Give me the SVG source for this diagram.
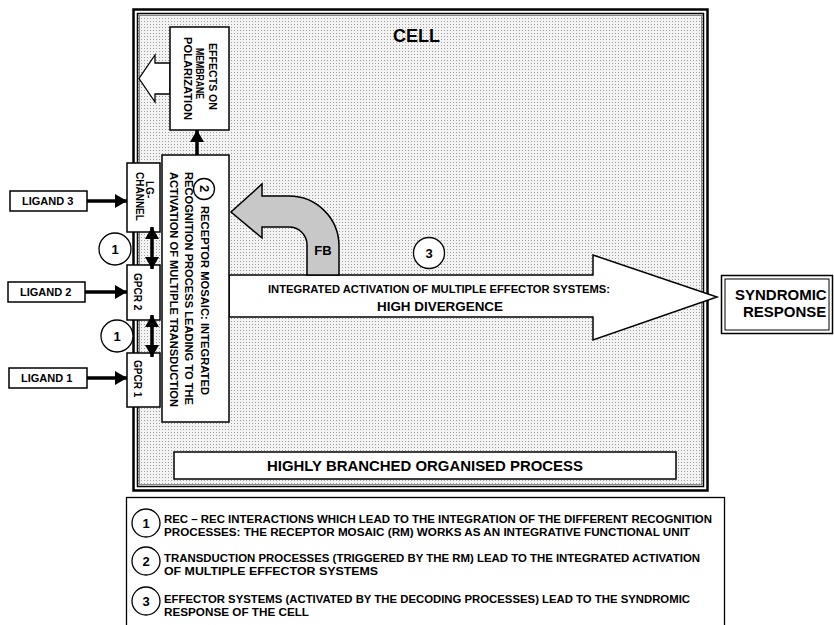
<svg xmlns="http://www.w3.org/2000/svg" width="834" height="625" viewBox="0 0 834 625">
  <defs>
    <pattern id="stipple" width="3" height="3" patternUnits="userSpaceOnUse">
      <rect width="3" height="3" fill="#f3f3f3"/>
      <rect width="1" height="1" fill="#a0a0a0"/>
    </pattern>
    <marker id="head" viewBox="0 0 12 14" refX="12" refY="7" markerWidth="12" markerHeight="14" markerUnits="userSpaceOnUse" orient="auto-start-reverse">
      <path d="M0,0 L12,7 L0,14 Z" fill="#000"/>
    </marker>
    <style>
      text { font-family: "Liberation Sans", Arial, sans-serif; font-weight: bold; fill: #000; }
      .box { fill: #fff; stroke: #000; stroke-width: 1.5; }
      .circ { fill: #fff; stroke: #000; stroke-width: 1.3; }
      .conn { stroke: #000; stroke-width: 3.5; fill: none; }
      .t10 { font-size: 10px; }
      .t11 { font-size: 11px; }
      .t13 { font-size: 13px; }
      .t15 { font-size: 15px; }
      .mid { text-anchor: middle; }
    </style>
  </defs>

  <rect width="834" height="625" fill="#fff"/>

  <!-- cell membrane: triple border with stippled cytoplasm -->
  <g id="cell">
    <rect x="133.5" y="9.5" width="574" height="481" fill="none" stroke="#000" stroke-width="2.5"/>
    <rect x="137.5" y="13.5" width="566" height="473" fill="url(#stipple)" stroke="#000" stroke-width="1.5"/>
    <rect x="139.5" y="15.5" width="562" height="469" fill="none" stroke="#888" stroke-width="1"/>
    <text x="393" y="42" font-size="19" textLength="47" lengthAdjust="spacingAndGlyphs">CELL</text>
  </g>

  <!-- main output arrow -->
  <g id="integrated-activation">
    <path d="M229,275 L593,275 L593,255 L717,297 L593,340 L593,317 L229,317 Z" fill="#fff" stroke="#000" stroke-width="1.5" stroke-linejoin="miter"/>
    <text class="t10" x="268" y="293" textLength="342" lengthAdjust="spacingAndGlyphs">INTEGRATED ACTIVATION OF MULTIPLE EFFECTOR SYSTEMS:</text>
    <text class="t13" x="377" y="311" textLength="126" lengthAdjust="spacingAndGlyphs">HIGH DIVERGENCE</text>
  </g>

  <!-- feedback arrow -->
  <g id="feedback">
    <path d="M307,275 L307,245 A18,18 0 0 0 289,227 L262,227 L262,238 L231,212 L262,184 L262,196 L289,196 A50,50 0 0 1 339,246 L339,275 Z" fill="#c8c8c8" stroke="#000" stroke-width="1.5"/>
    <text class="t13 mid" x="323" y="255">FB</text>
  </g>

  <g id="label-3">
    <circle class="circ" cx="429" cy="253" r="15.5"/>
    <text class="t13 mid" x="429" y="258">3</text>
  </g>

  <!-- membrane polarization effects -->
  <g id="effects">
    <path d="M170,63 L155,63 L155,55 L139,78.5 L155,102 L155,94 L170,94 Z" fill="#fff" stroke="#000" stroke-width="1.3" stroke-linejoin="miter"/>
    <rect class="box" x="170" y="27" width="59" height="103"/>
    <text class="t10" transform="translate(208.5,43) rotate(90)" textLength="67" lengthAdjust="spacingAndGlyphs">EFFECTS ON</text>
    <text class="t10" transform="translate(195.5,48) rotate(90)" textLength="51" lengthAdjust="spacingAndGlyphs">MEMBRANE</text>
    <text class="t10" transform="translate(183.5,37) rotate(90)" textLength="83" lengthAdjust="spacingAndGlyphs">POLARIZATION</text>
  </g>

  <!-- receptor mosaic -->
  <g id="receptor-mosaic">
    <rect class="box" x="162" y="155" width="67" height="267"/>
    <circle class="circ" cx="204" cy="189" r="10.5"/>
    <text class="t13" transform="translate(200,185) rotate(90)">2</text>
    <text class="t10" transform="translate(200.5,206) rotate(90)" textLength="189" lengthAdjust="spacingAndGlyphs">RECEPTOR MOSAIC: INTEGRATED</text>
    <text class="t10" transform="translate(184.5,172) rotate(90)" textLength="233" lengthAdjust="spacingAndGlyphs">RECOGNITION PROCESS LEADING TO THE</text>
    <text class="t10" transform="translate(169.5,172) rotate(90)" textLength="235" lengthAdjust="spacingAndGlyphs">ACTIVATION OF MULTIPLE TRANSDUCTION</text>
  </g>

  <!-- receptors -->
  <g id="lg-channel">
    <rect class="box" x="127" y="163" width="33" height="69"/>
    <text class="t10" transform="translate(146,181) rotate(90)">LG-</text>
    <text class="t10" transform="translate(136,172) rotate(90)">CHANNEL</text>
  </g>
  <g id="gpcr2">
    <rect class="box" x="127" y="265" width="33" height="55"/>
    <text class="t10" transform="translate(134,273) rotate(90)">GPCR 2</text>
  </g>
  <g id="gpcr1">
    <rect class="box" x="127" y="353" width="33" height="54"/>
    <text class="t10" transform="translate(134,360) rotate(90)">GPCR 1</text>
  </g>

  <!-- ligands -->
  <g id="ligand3">
    <rect class="box" x="10" y="191" width="77" height="20"/>
    <text class="t11" x="22" y="205">LIGAND 3</text>
  </g>
  <g id="ligand2">
    <rect class="box" x="8" y="282" width="77" height="20"/>
    <text class="t11" x="20" y="296">LIGAND 2</text>
  </g>
  <g id="ligand1">
    <rect class="box" x="9" y="368" width="78" height="20"/>
    <text class="t11" x="21" y="382">LIGAND 1</text>
  </g>

  <g id="label-1a">
    <circle class="circ" cx="115" cy="249" r="16"/>
    <text class="t13 mid" x="115" y="254">1</text>
  </g>
  <g id="label-1b">
    <circle class="circ" cx="117" cy="336" r="16"/>
    <text class="t13 mid" x="117" y="341">1</text>
  </g>

  <!-- syndromic response -->
  <g id="syndromic-response">
    <rect x="721.5" y="275.5" width="111" height="58" fill="#fff" stroke="#000" stroke-width="1.5"/>
    <rect x="725" y="279" width="104" height="51" fill="none" stroke="#000" stroke-width="1"/>
    <text class="t15" x="735" y="300">SYNDROMIC</text>
    <text class="t15" x="743" y="317">RESPONSE</text>
  </g>

  <g id="branched-process">
    <rect class="box" x="174" y="452" width="502" height="27"/>
    <text class="t15" x="267" y="471" textLength="316" lengthAdjust="spacingAndGlyphs">HIGHLY BRANCHED ORGANISED PROCESS</text>
  </g>

  <!-- connectors -->
  <g id="connectors">
    <line class="conn" x1="87" y1="201" x2="127" y2="201" marker-end="url(#head)"/>
    <line class="conn" x1="85" y1="292" x2="127" y2="292" marker-end="url(#head)"/>
    <line class="conn" x1="87" y1="378" x2="127" y2="378" marker-end="url(#head)"/>
    <line class="conn" x1="152" y1="227" x2="152" y2="269" marker-start="url(#head)" marker-end="url(#head)"/>
    <line class="conn" x1="152" y1="315" x2="152" y2="357" marker-start="url(#head)" marker-end="url(#head)"/>
    <line class="conn" x1="197" y1="155" x2="197" y2="130" marker-end="url(#head)"/>
  </g>

  <!-- legend -->
  <g id="legend">
    <rect x="126.5" y="497.5" width="598" height="140" fill="#fff" stroke="#000" stroke-width="1.3"/>
    <circle class="circ" cx="146" cy="523" r="14"/>
    <text class="t13 mid" x="146" y="528">1</text>
    <text class="t11" x="164" y="523" textLength="548" lengthAdjust="spacingAndGlyphs">REC – REC INTERACTIONS WHICH LEAD TO THE INTEGRATION OF THE DIFFERENT RECOGNITION</text>
    <text class="t11" x="164" y="536" textLength="526" lengthAdjust="spacingAndGlyphs">PROCESSES: THE RECEPTOR MOSAIC (RM) WORKS AS AN INTEGRATIVE FUNCTIONAL UNIT</text>
    <circle class="circ" cx="146" cy="561" r="14"/>
    <text class="t13 mid" x="146" y="566">2</text>
    <text class="t11" x="164" y="562" textLength="536" lengthAdjust="spacingAndGlyphs">TRANSDUCTION PROCESSES (TRIGGERED BY THE RM) LEAD TO THE INTEGRATED ACTIVATION</text>
    <text class="t11" x="164" y="575" textLength="214" lengthAdjust="spacingAndGlyphs">OF MULTIPLE EFFECTOR SYSTEMS</text>
    <circle class="circ" cx="146" cy="601" r="14"/>
    <text class="t13 mid" x="146" y="606">3</text>
    <text class="t11" x="164" y="603" textLength="526" lengthAdjust="spacingAndGlyphs">EFFECTOR SYSTEMS (ACTIVATED BY THE DECODING PROCESSES) LEAD TO THE SYNDROMIC</text>
    <text class="t11" x="164" y="616" textLength="145" lengthAdjust="spacingAndGlyphs">RESPONSE OF THE CELL</text>
  </g>
</svg>
